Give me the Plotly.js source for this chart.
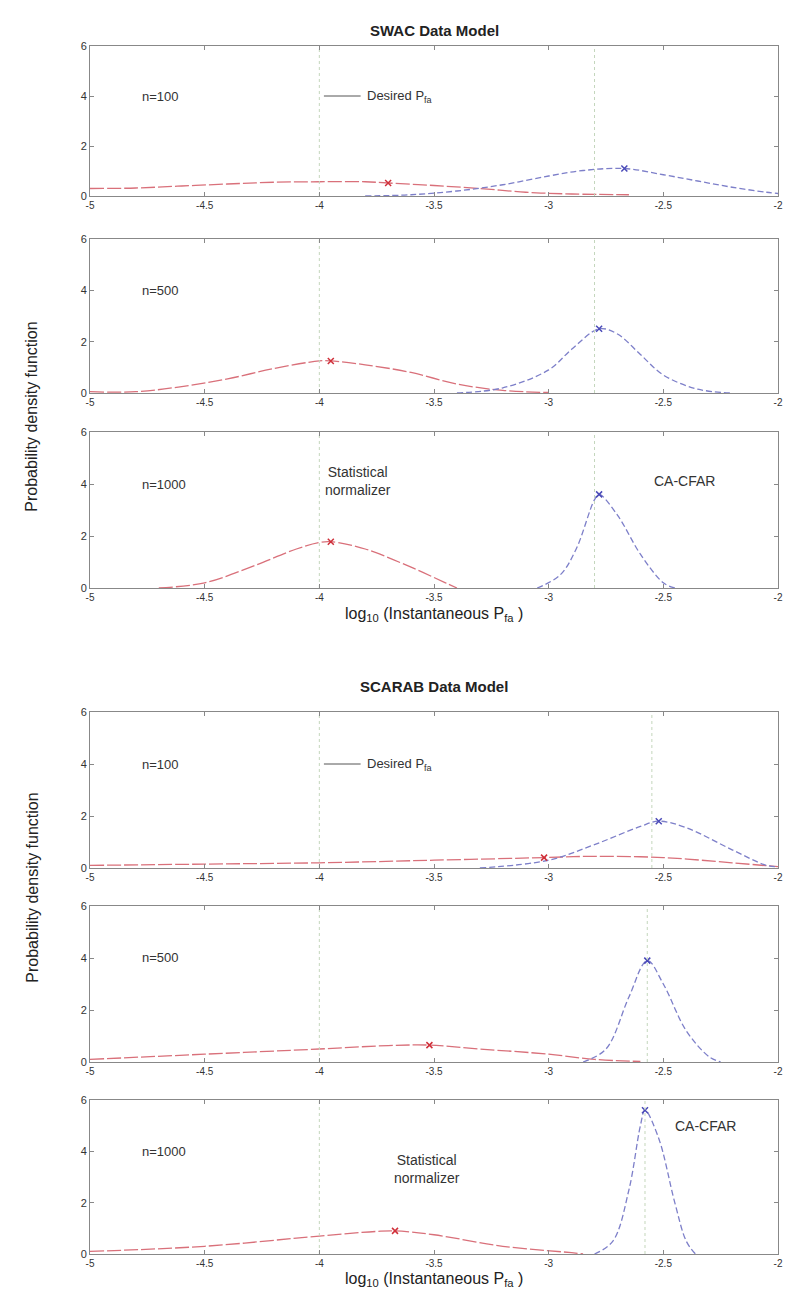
<!DOCTYPE html>
<html>
<head>
<meta charset="utf-8">
<script src="https://cdn.plot.ly/plotly-3.0.1.min.js"></script>
<style>body{margin:0;background:#fff}</style>
</head>
<body>
<div id="chart" style="width:789px;height:1308px"></div>
<script>
// x = log10(instantaneous Pfa), y = pdf
var swac100RedX = [-5, -4.8, -4.6, -4.4, -4.2, -4.0, -3.8, -3.7, -3.5, -3.3, -3.1, -2.9, -2.65];
var swac100RedY = [0.3, 0.32, 0.4, 0.48, 0.55, 0.57, 0.57, 0.52, 0.42, 0.3, 0.15, 0.08, 0.05];
var swac100BlueX = [-3.8, -3.6, -3.4, -3.2, -3.0, -2.85, -2.67, -2.5, -2.35, -2.2, -2.05, -2.0];
var swac100BlueY = [0.0, 0.05, 0.2, 0.45, 0.8, 1.02, 1.1, 0.85, 0.6, 0.35, 0.15, 0.1];

var swac500RedX = [-5, -4.8, -4.6, -4.4, -4.2, -4.0, -3.95, -3.8, -3.6, -3.4, -3.2, -3.0];
var swac500RedY = [0.05, 0.05, 0.25, 0.55, 0.95, 1.25, 1.25, 1.1, 0.8, 0.35, 0.1, 0.02];
var swac500BlueX = [-3.4, -3.2, -3.0, -2.9, -2.78, -2.7, -2.6, -2.5, -2.35, -2.2];
var swac500BlueY = [0.0, 0.2, 0.9, 1.7, 2.5, 2.3, 1.5, 0.7, 0.15, 0.0];

var swac1000RedX = [-4.7, -4.5, -4.3, -4.1, -4.0, -3.95, -3.8, -3.6, -3.45, -3.4];
var swac1000RedY = [0.0, 0.2, 0.8, 1.5, 1.75, 1.78, 1.5, 0.8, 0.2, 0.0];
var swac1000BlueX = [-3.05, -2.95, -2.88, -2.8, -2.78, -2.7, -2.6, -2.5, -2.45];
var swac1000BlueY = [0.0, 0.5, 1.5, 3.4, 3.6, 2.8, 1.3, 0.2, 0.0];

var scarab100RedX = [-5, -4.5, -4.0, -3.5, -3.02, -2.8, -2.5, -2.2, -2.0];
var scarab100RedY = [0.1, 0.15, 0.2, 0.3, 0.4, 0.45, 0.4, 0.2, 0.05];
var scarab100BlueX = [-3.3, -3.0, -2.8, -2.6, -2.52, -2.4, -2.2, -2.05, -2.0];
var scarab100BlueY = [0.0, 0.3, 0.9, 1.6, 1.8, 1.55, 0.7, 0.1, 0.05];

var scarab500RedX = [-5, -4.5, -4.0, -3.7, -3.52, -3.3, -3.0, -2.8, -2.6];
var scarab500RedY = [0.1, 0.3, 0.5, 0.63, 0.65, 0.5, 0.3, 0.1, 0.02];
var scarab500BlueX = [-2.85, -2.75, -2.65, -2.57, -2.5, -2.4, -2.3, -2.25];
var scarab500BlueY = [0.0, 0.5, 2.5, 3.9, 3.0, 1.2, 0.2, 0.0];

var scarab1000RedX = [-5, -4.5, -4.0, -3.75, -3.67, -3.5, -3.2, -2.9, -2.85];
var scarab1000RedY = [0.1, 0.3, 0.7, 0.88, 0.9, 0.75, 0.3, 0.05, 0.0];
var scarab1000BlueX = [-2.8, -2.72, -2.65, -2.6, -2.58, -2.52, -2.45, -2.4, -2.36];
var scarab1000BlueY = [0.0, 0.5, 2.5, 5.0, 5.6, 4.5, 2.0, 0.5, 0.0];

var peakRed = [[-3.7, 0.52], [-3.95, 1.25], [-3.95, 1.78], [-3.02, 0.4], [-3.52, 0.65], [-3.67, 0.9]];
var peakBlue = [[-2.67, 1.1], [-2.78, 2.5], [-2.78, 3.6], [-2.52, 1.8], [-2.57, 3.9], [-2.58, 5.6]];
var cfarLine = [-2.8, -2.8, -2.8, -2.55, -2.57, -2.58];
var desiredPfa = -4;
var nLabels = ["n=100", "n=500", "n=1000", "n=100", "n=500", "n=1000"];

var redSets = [[swac100RedX, swac100RedY], [swac500RedX, swac500RedY], [swac1000RedX, swac1000RedY],
  [scarab100RedX, scarab100RedY], [scarab500RedX, scarab500RedY], [scarab1000RedX, scarab1000RedY]];
var blueSets = [[swac100BlueX, swac100BlueY], [swac500BlueX, swac500BlueY], [swac1000BlueX, swac1000BlueY],
  [scarab100BlueX, scarab100BlueY], [scarab500BlueX, scarab500BlueY], [scarab1000BlueX, scarab1000BlueY]];

// panel top/bottom in pixels
var panels = [[46, 196], [239, 393], [432, 588], [712, 868], [906, 1062], [1100, 1254]];
var H = 1308;
var FONT = "Liberation Sans, Arial, sans-serif";

var traces = [], layout = {
  width: 789, height: H, showlegend: false,
  margin: {l: 90, r: 11, t: 0, b: 0},
  paper_bgcolor: "#fff", plot_bgcolor: "#fff",
  font: {family: FONT, size: 11, color: "#333"},
  shapes: [], annotations: []
};

for (var i = 0; i < 6; i++) {
  var s = i === 0 ? "" : String(i + 1);
  var xa = "x" + s, ya = "y" + s;
  traces.push({x: redSets[i][0], y: redSets[i][1], xaxis: xa, yaxis: ya, mode: "lines",
    line: {color: "#d9707a", width: 1.3, shape: "spline", dash: "14px,3px"}});
  traces.push({x: blueSets[i][0], y: blueSets[i][1], xaxis: xa, yaxis: ya, mode: "lines",
    line: {color: "#7d7fc9", width: 1.3, shape: "spline", dash: "6px,3px"}});
  traces.push({x: [peakRed[i][0]], y: [peakRed[i][1]], xaxis: xa, yaxis: ya, mode: "markers",
    marker: {symbol: "x-thin-open", size: 6, color: "#d0303a", line: {width: 1.5, color: "#d0303a"}}});
  traces.push({x: [peakBlue[i][0]], y: [peakBlue[i][1]], xaxis: xa, yaxis: ya, mode: "markers",
    marker: {symbol: "x-thin-open", size: 6, color: "#4a4ab8", line: {width: 1.5, color: "#4a4ab8"}}});
  traces.push({x: [desiredPfa, desiredPfa], y: [0, 6], xaxis: xa, yaxis: ya, mode: "lines",
    line: {color: "#c4d6bc", width: 1, dash: "dot"}});
  traces.push({x: [cfarLine[i], cfarLine[i]], y: [0, 6], xaxis: xa, yaxis: ya, mode: "lines",
    line: {color: "#c4d6bc", width: 1, dash: "dot"}});

  var p = panels[i];
  layout["xaxis" + s] = {domain: [0, 1], range: [-5, -2], anchor: ya, tickvals: [-5, -4.5, -4, -3.5, -3, -2.5, -2],
    ticktext: ["-5", "-4.5", "-4", "-3.5", "-3", "-2.5", "-2"],
    showgrid: false, zeroline: false, showline: true, mirror: "ticks", linecolor: "#888", linewidth: 1,
    ticks: "inside", ticklen: 4, tickcolor: "#888", tickfont: {size: 10, color: "#333"}};
  layout["yaxis" + s] = {domain: [1 - p[1] / H, 1 - p[0] / H], range: [0, 6], anchor: xa, tickvals: [0, 2, 4, 6],
    showgrid: false, zeroline: false, showline: true, mirror: "ticks", linecolor: "#888", linewidth: 1,
    ticks: "inside", ticklen: 4, tickcolor: "#888", tickfont: {size: 11, color: "#333"}};
  layout.annotations.push({xref: xa, yref: ya, x: -4.78, y: 4, text: nLabels[i], showarrow: false,
    xanchor: "left", font: {size: 13, color: "#333"}});
}

function ann(xa, ya, x, y, text, size, anchor) {
  layout.annotations.push({xref: xa, yref: ya, x: x, y: y, text: text, showarrow: false,
    xanchor: anchor || "center", font: {size: size, color: "#333"}});
}
// legend-like "Desired Pfa" line
layout.shapes.push({type: "line", xref: "x", yref: "y", x0: -3.98, x1: -3.82, y0: 4, y1: 4, line: {color: "#555", width: 1}});
layout.shapes.push({type: "line", xref: "x4", yref: "y4", x0: -3.98, x1: -3.82, y0: 4, y1: 4, line: {color: "#555", width: 1}});
ann("x", "y", -3.8, 4, "Desired P<sub>fa</sub>", 13, "left");
ann("x4", "y4", -3.8, 4, "Desired P<sub>fa</sub>", 13, "left");
ann("x3", "y3", -3.83, 4.1, "Statistical<br>normalizer", 14);
ann("x3", "y3", -2.55, 4.1, "CA-CFAR", 14, "left");
ann("x6", "y6", -3.53, 3.3, "Statistical<br>normalizer", 14);
ann("x6", "y6", -2.46, 5, "CA-CFAR", 14, "left");

// titles and axis labels (paper coords)
function pap(x, y, text, size, bold) {
  layout.annotations.push({xref: "paper", yref: "paper", x: x, y: 1 - y / H, text: bold ? "<b>" + text + "</b>" : text,
    showarrow: false, font: {size: size, color: "#222", family: FONT}});
}
pap(0.5, 20, "SWAC Data Model", 15, true);
pap(0.5, 686, "SCARAB Data Model", 15, true);
pap(0.5, 614, "log<sub>10</sub> (Instantaneous P<sub>fa</sub> )", 16);
pap(0.5, 1291, "log<sub>10</sub> (Instantaneous P<sub>fa</sub> )", 16);
layout.annotations.push({xref: "paper", yref: "paper", x: -0.1, y: 1 - 320 / H, text: "Probability density function",
  showarrow: false, textangle: -90, font: {size: 16, color: "#222"}});
layout.annotations.push({xref: "paper", yref: "paper", x: -0.1, y: 1 - 985 / H, text: "Probability density function",
  showarrow: false, textangle: -90, font: {size: 16, color: "#222"}});

Plotly.newPlot("chart", traces, layout, {staticPlot: true});
</script>
</body>
</html>
